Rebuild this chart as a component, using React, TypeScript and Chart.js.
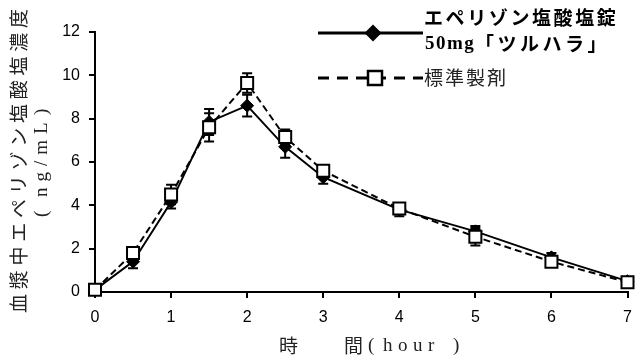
import { useEffect, useRef } from 'react';
import { Chart, registerables } from 'chart.js';

Chart.register(...registerables);

// ---- data ----
const hours = [0, 0.5, 1, 1.5, 2, 2.5, 3, 4, 5, 6, 7];
const testMean = [0.1, 1.4, 4.15, 7.85, 8.6, 6.7, 5.3, 3.8, 2.8, 1.6, 0.5];
const testSD = [0.05, 0.3, 0.3, 0.6, 0.5, 0.5, 0.3, 0.3, 0.25, 0.2, 0.1];
const refMean = [0.1, 1.8, 4.5, 7.6, 9.65, 7.15, 5.6, 3.85, 2.55, 1.4, 0.45];
const refSD = [0.05, 0.25, 0.45, 0.65, 0.45, 0.35, 0.2, 0.2, 0.4, 0.1, 0.1];

const xMin = 0;
const xMax = 7;
const xStep = 1;
const yMin = 0;
const yMax = 12;
const yStep = 2;

const testLabel1 = 'エペリゾン塩酸塩錠';
const testLabel2a = '50mg';
const testLabel2b = '「ツルハラ」';
const refLabel = '標準製剤';
const yTitle1 = '血漿中エペリゾン塩酸塩濃度';
const yTitle2 = 'ng/mL';
const xTitleA = '時';
const xTitleB = '間';
const xTitleUnit = 'hour';

const CJK = '"Noto Sans CJK JP", "Noto Sans", sans-serif';
const SERIF = '"Liberation Serif", "DejaVu Serif", serif';
const SANS = '"Liberation Sans", Arial, sans-serif';

function drawSpaced(ctx: CanvasRenderingContext2D, text: string, x: number, y: number, spacing: number) {
  let cx = x;
  for (const ch of Array.from(text)) {
    ctx.fillText(ch, cx, y);
    cx += ctx.measureText(ch).width + spacing;
  }
  return cx;
}

const errorSets = [testSD, refSD];

const errorBarPlugin = {
  id: 'errorBars',
  beforeDatasetDraw(chart: any, args: any) {
    const sd = errorSets[args.index];
    if (!sd) return;
    const ds = chart.data.datasets[args.index];
    const yScale = chart.scales.y;
    const ctx: CanvasRenderingContext2D = chart.ctx;
    ctx.save();
    ctx.strokeStyle = '#000';
    ctx.lineWidth = 2;
    ctx.setLineDash([]);
    args.meta.data.forEach((pt: any, i: number) => {
      const m = ds.data[i].y;
      const s = sd[i];
      const px = pt.x;
      const top = yScale.getPixelForValue(m + s);
      const bot = yScale.getPixelForValue(m - s);
      ctx.beginPath();
      ctx.moveTo(px, top);
      ctx.lineTo(px, bot);
      ctx.moveTo(px - 5, top);
      ctx.lineTo(px + 5, top);
      ctx.moveTo(px - 5, bot);
      ctx.lineTo(px + 5, bot);
      ctx.stroke();
    });
    ctx.restore();
  },
};

const annotationPlugin = {
  id: 'annotations',
  afterDraw(chart: any) {
    const ctx: CanvasRenderingContext2D = chart.ctx;
    ctx.save();
    ctx.fillStyle = '#000';
    ctx.textBaseline = 'middle';
    ctx.textAlign = 'left';

    // ---- legend ----
    ctx.strokeStyle = '#000';
    ctx.lineWidth = 3;
    ctx.setLineDash([]);
    ctx.beginPath();
    ctx.moveTo(318, 33);
    ctx.lineTo(423, 33);
    ctx.stroke();
    ctx.beginPath();
    ctx.moveTo(373 - 8.5, 33);
    ctx.lineTo(373, 33 - 8.5);
    ctx.lineTo(373 + 8.5, 33);
    ctx.lineTo(373, 33 + 8.5);
    ctx.closePath();
    ctx.fill();

    ctx.beginPath();
    ctx.setLineDash([11, 8]);
    ctx.moveTo(318, 78);
    ctx.lineTo(423, 78);
    ctx.stroke();
    ctx.setLineDash([]);
    ctx.fillStyle = '#fff';
    ctx.fillRect(368, 71, 14, 14);
    ctx.lineWidth = 2.5;
    ctx.strokeRect(368, 71, 14, 14);
    ctx.fillStyle = '#000';

    ctx.font = `bold 19px ${CJK}`;
    drawSpaced(ctx, testLabel1, 424, 18, 2.6);
    ctx.font = `bold 19px ${SERIF}`;
    drawSpaced(ctx, testLabel2a, 425, 44, 1.5);
    ctx.font = `bold 19px ${CJK}`;
    drawSpaced(ctx, testLabel2b, 475, 44, 3.5);
    ctx.font = `19px ${CJK}`;
    ctx.fillStyle = '#222';
    drawSpaced(ctx, refLabel, 424, 78, 2);

    // ---- x title ----
    ctx.fillStyle = '#222';
    ctx.font = `19px ${CJK}`;
    ctx.fillText(xTitleA, 279, 346);
    ctx.fillText(xTitleB, 344, 346);
    ctx.font = `19px ${SERIF}`;
    ctx.fillText('(', 368, 346);
    drawSpaced(ctx, xTitleUnit, 383, 346, 5.5);
    ctx.fillText(')', 453, 346);

    // ---- y title ----
    ctx.save();
    ctx.translate(19, 313);
    ctx.rotate(-Math.PI / 2);
    ctx.font = `19px ${CJK}`;
    drawSpaced(ctx, yTitle1, 0, 0, 4.75);
    ctx.restore();

    ctx.save();
    ctx.translate(42, 217);
    ctx.rotate(-Math.PI / 2);
    ctx.font = `19px ${SERIF}`;
    ctx.fillText('(', 0, 0);
    drawSpaced(ctx, yTitle2, 20, 0, 6);
    ctx.fillText(')', 102, 0);
    ctx.restore();

    ctx.restore();
  },
};

export default function App() {
  const ref = useRef<HTMLCanvasElement | null>(null);

  useEffect(() => {
    if (!ref.current) return;
    const chart = new Chart(ref.current, {
      type: 'line',
      data: {
        datasets: [
          {
            label: testLabel1 + testLabel2a + testLabel2b,
            data: hours.map((h, i) => ({ x: h, y: testMean[i] })),
            borderColor: '#000',
            backgroundColor: '#000',
            borderWidth: 2,
            pointStyle: 'rectRot',
            pointRadius: 6.5,
            pointBackgroundColor: '#000',
            pointBorderColor: '#000',
            pointBorderWidth: 1,
            tension: 0,
            clip: false,
            order: 1,
          },
          {
            label: refLabel,
            data: hours.map((h, i) => ({ x: h, y: refMean[i] })),
            borderColor: '#000',
            backgroundColor: '#fff',
            borderWidth: 2,
            borderDash: [7, 4],
            pointStyle: 'rect',
            pointRadius: 8.5,
            pointBackgroundColor: '#fff',
            pointBorderColor: '#000',
            pointBorderWidth: 2,
            tension: 0,
            clip: false,
            order: 0,
          },
        ] as any,
      },
      options: {
        animation: false,
        responsive: false,
        layout: { padding: { left: 0, top: 32, right: 9, bottom: 0 } },
        plugins: {
          legend: { display: false },
          tooltip: { enabled: false },
        },
        scales: {
          x: {
            type: 'linear',
            min: xMin,
            max: xMax,
            ticks: {
              stepSize: xStep,
              color: '#000',
              font: { family: SANS, size: 16 },
              padding: 10,
              maxRotation: 0,
            },
            grid: {
              drawOnChartArea: false,
              drawTicks: true,
              tickLength: 6,
              color: '#000',
              lineWidth: 2,
            },
            border: { display: true, color: '#000', width: 2 },
            afterFit(scale: any) {
              scale.height = 66;
              scale.paddingLeft = 0;
              scale.paddingRight = 0;
            },
          },
          y: {
            type: 'linear',
            min: yMin,
            max: yMax,
            ticks: {
              stepSize: yStep,
              color: '#000',
              font: { family: SANS, size: 16 },
              padding: 9,
            },
            grid: {
              drawOnChartArea: false,
              drawTicks: true,
              tickLength: 6,
              color: '#000',
              lineWidth: 2,
            },
            border: { display: true, color: '#000', width: 2 },
            afterFit(scale: any) {
              scale.width = 95;
              scale.paddingTop = 0;
              scale.paddingBottom = 0;
            },
          },
        },
      } as any,
      plugins: [errorBarPlugin, annotationPlugin],
    });
    return () => chart.destroy();
  }, []);

  return (
    <div style={{ position: 'fixed', left: 0, top: 0, width: 638, height: 358, background: '#fff' }}>
      <canvas ref={ref} width={638} height={358} style={{ display: 'block' }} />
    </div>
  );
}
